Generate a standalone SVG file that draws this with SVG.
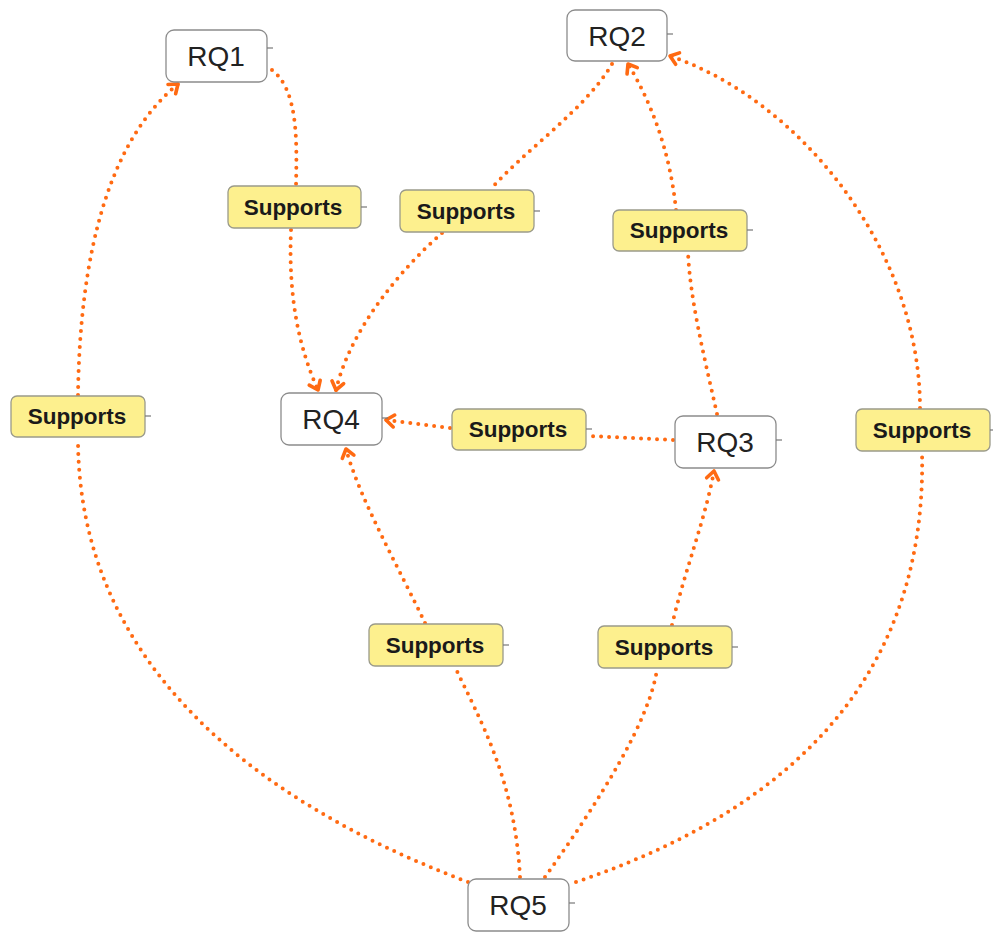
<svg xmlns="http://www.w3.org/2000/svg" width="993" height="933" viewBox="0 0 993 933">
  <style>
    .node rect { fill: #ffffff; stroke: #8c8c8c; stroke-width: 1.3; }
    .node text { font-family: "Liberation Sans", Arial, sans-serif; font-size: 28px; fill: #222; text-anchor: middle; }
    .lbl rect { fill: #fdf08e; stroke: #9a9a8a; stroke-width: 1.3; }
    .lbl text { font-family: "Liberation Sans", Arial, sans-serif; font-size: 22.5px; font-weight: bold; fill: #1a1a1a; text-anchor: middle; }
    .tick { stroke: #777; stroke-width: 1.2; }
    .edge { fill: none; stroke: #ff6a12; stroke-width: 4; stroke-linecap: round; stroke-dasharray: 0 8; }
  </style>
  <defs>
    <marker id="arrow" markerUnits="userSpaceOnUse" markerWidth="20" markerHeight="20" refX="0" refY="0" viewBox="-12 -10 16 20" orient="auto">
      <path d="M -8 -6 L 0 0 L -8 6" fill="none" stroke="#ff6a12" stroke-width="3.6" stroke-linecap="round" stroke-linejoin="round"/>
    </marker>
  </defs>

  <g id="connectors">
    <!-- RQ1 -> RQ4 -->
    <path class="edge" d="M 272 70 C 298 90 297 140 296 186"/>
    <path class="edge" d="M 291 230 C 288 300 300 350 318 390" marker-end="url(#arrow)"/>
    <!-- RQ2 -> RQ4 -->
    <path class="edge" d="M 612 64 C 585 110 525 150 490 190"/>
    <path class="edge" d="M 442 233 C 400 270 350 330 336 390" marker-end="url(#arrow)"/>
    <!-- RQ3 -> RQ2 -->
    <path class="edge" d="M 717 414 C 705 360 690 300 688 252"/>
    <path class="edge" d="M 676 210 C 670 150 650 100 628 64" marker-end="url(#arrow)"/>
    <!-- RQ5 -> RQ1 -->
    <path class="edge" d="M 468 882 C 250 800 78 660 78 438"/>
    <path class="edge" d="M 78 395 C 80 250 110 140 178 84" marker-end="url(#arrow)"/>
    <!-- RQ3 -> RQ4 -->
    <path class="edge" d="M 673 440 L 588 436"/>
    <path class="edge" d="M 450 428 L 386 420" marker-end="url(#arrow)"/>
    <!-- RQ5 -> RQ2 -->
    <path class="edge" d="M 576 882 C 760 820 928 700 922 452"/>
    <path class="edge" d="M 920 408 C 920 250 800 100 670 56" marker-end="url(#arrow)"/>
    <!-- RQ5 -> RQ4 -->
    <path class="edge" d="M 520 877 C 515 780 480 720 455 667"/>
    <path class="edge" d="M 425 623 C 400 570 360 500 346 449" marker-end="url(#arrow)"/>
    <!-- RQ5 -> RQ3 -->
    <path class="edge" d="M 545 877 C 600 800 650 720 657 669"/>
    <path class="edge" d="M 672 625 C 685 570 705 520 714 471" marker-end="url(#arrow)"/>
  </g>

  <!-- relation labels -->
  <g id="lbl-rq1-rq4" class="lbl">
    <rect x="228" y="186" width="133" height="42" rx="6"/>
    <line class="tick" x1="361" y1="207" x2="367" y2="207"/>
    <text x="293" y="215">Supports</text>
  </g>
  <g id="lbl-rq2-rq4" class="lbl">
    <rect x="400" y="190" width="134" height="42" rx="6"/>
    <line class="tick" x1="534" y1="211" x2="540" y2="211"/>
    <text x="466" y="219">Supports</text>
  </g>
  <g id="lbl-rq3-rq2" class="lbl">
    <rect x="613" y="210" width="134" height="41" rx="6"/>
    <line class="tick" x1="747" y1="230" x2="753" y2="230"/>
    <text x="679" y="238">Supports</text>
  </g>
  <g id="lbl-rq5-rq1" class="lbl">
    <rect x="11" y="396" width="134" height="41" rx="6"/>
    <line class="tick" x1="145" y1="416" x2="151" y2="416"/>
    <text x="77" y="424">Supports</text>
  </g>
  <g id="lbl-rq3-rq4" class="lbl">
    <rect x="452" y="409" width="134" height="41" rx="6"/>
    <line class="tick" x1="586" y1="429" x2="592" y2="429"/>
    <text x="518" y="437">Supports</text>
  </g>
  <g id="lbl-rq5-rq2" class="lbl">
    <rect x="856" y="409" width="134" height="42" rx="6"/>
    <line class="tick" x1="990" y1="430" x2="993" y2="430"/>
    <text x="922" y="438">Supports</text>
  </g>
  <g id="lbl-rq5-rq4" class="lbl">
    <rect x="369" y="624" width="134" height="42" rx="6"/>
    <line class="tick" x1="503" y1="645" x2="509" y2="645"/>
    <text x="435" y="653">Supports</text>
  </g>
  <g id="lbl-rq5-rq3" class="lbl">
    <rect x="598" y="626" width="134" height="42" rx="6"/>
    <line class="tick" x1="732" y1="647" x2="738" y2="647"/>
    <text x="664" y="655">Supports</text>
  </g>

  <!-- question nodes -->
  <g id="RQ1" class="node">
    <rect x="166" y="30" width="101" height="52" rx="8"/>
    <line class="tick" x1="267" y1="48" x2="273" y2="48"/>
    <text x="216" y="66">RQ1</text>
  </g>
  <g id="RQ2" class="node">
    <rect x="567" y="10" width="100" height="51" rx="8"/>
    <line class="tick" x1="667" y1="34" x2="673" y2="34"/>
    <text x="617" y="46">RQ2</text>
  </g>
  <g id="RQ3" class="node">
    <rect x="675" y="416" width="101" height="52" rx="8"/>
    <line class="tick" x1="776" y1="440" x2="782" y2="440"/>
    <text x="725" y="452">RQ3</text>
  </g>
  <g id="RQ4" class="node">
    <rect x="281" y="393" width="101" height="52" rx="8"/>
    <line class="tick" x1="382" y1="418" x2="388" y2="418"/>
    <text x="331" y="429">RQ4</text>
  </g>
  <g id="RQ5" class="node">
    <rect x="468" y="879" width="101" height="52" rx="8"/>
    <line class="tick" x1="569" y1="903" x2="575" y2="903"/>
    <text x="518" y="915">RQ5</text>
  </g>
</svg>
